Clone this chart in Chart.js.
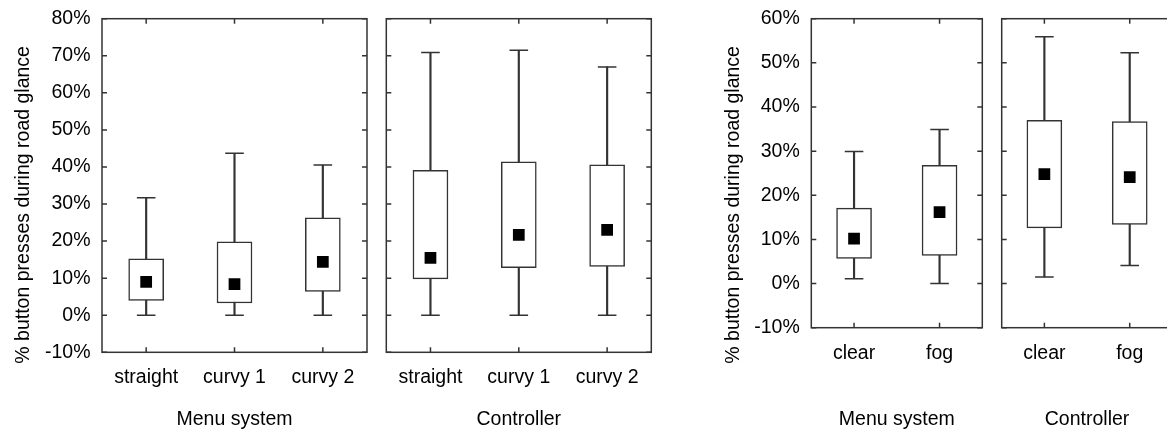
<!DOCTYPE html>
<html>
<head>
<meta charset="utf-8">
<script src="https://cdn.jsdelivr.net/npm/chart.js@4"></script>
<style>
  html, body { margin: 0; padding: 0; background: #fff; overflow: hidden; }
  #wrap { position: relative; width: 1167px; height: 429px; overflow: hidden; }
  canvas { position: absolute; top: 0; }
</style>
</head>
<body>
<div id="wrap">
  <canvas id="menuRoad" width="372" height="429" style="left:0px"></canvas>
  <canvas id="ctrlRoad" width="288" height="429" style="left:372px"></canvas>
  <canvas id="menuWeather" width="285" height="429" style="left:705px"></canvas>
  <canvas id="ctrlWeather" width="190" height="429" style="left:990px"></canvas>
</div>
<script>
// values in % (min / lower quartile / upper quartile / max / mean marker)
const roadLabels = ['straight', 'curvy 1', 'curvy 2'];
const menuRoadMin = [0, 0, 0];
const menuRoadQ1 = [4.0, 3.3, 6.4];
const menuRoadQ3 = [15.2, 19.8, 26.3];
const menuRoadMax = [31.7, 43.7, 40.5];
const menuRoadMean = [9.0, 8.4, 14.4];

const ctrlRoadMin = [0, 0, 0];
const ctrlRoadQ1 = [9.8, 12.8, 13.2];
const ctrlRoadQ3 = [39.1, 41.4, 40.6];
const ctrlRoadMax = [70.9, 71.5, 67.0];
const ctrlRoadMean = [15.5, 21.7, 23.0];

const weatherLabels = ['clear', 'fog'];
const menuWeatherMin = [1.1, 0];
const menuWeatherQ1 = [5.7, 6.4];
const menuWeatherQ3 = [17.1, 26.8];
const menuWeatherMax = [29.9, 34.9];
const menuWeatherMean = [10.2, 16.2];

const ctrlWeatherMin = [1.5, 4.1];
const ctrlWeatherQ1 = [12.6, 13.4];
const ctrlWeatherQ3 = [37.0, 36.7];
const ctrlWeatherMax = [55.9, 52.3];
const ctrlWeatherMean = [24.8, 24.1];

const yTitle = '% button presses during road glance';
const INK = '#333';

Chart.defaults.font.family = "'Liberation Sans', Arial, sans-serif";
Chart.defaults.color = '#000';

// box around the plot area with little inward ticks on all four sides
const frame = {
  id: 'frame',
  beforeDatasetsDraw(chart) {
    const {ctx, chartArea: a, scales: {x, y}} = chart;
    ctx.save();
    ctx.strokeStyle = INK;
    ctx.lineWidth = 1.5;
    ctx.strokeRect(a.left, a.top, a.right - a.left, a.bottom - a.top);
    ctx.beginPath();
    y.ticks.forEach(t => {
      const py = y.getPixelForValue(t.value);
      ctx.moveTo(a.left, py); ctx.lineTo(a.left + 5, py);
      ctx.moveTo(a.right, py); ctx.lineTo(a.right - 5, py);
    });
    x.ticks.forEach((t, i) => {
      const px = x.getPixelForTick(i);
      ctx.moveTo(px, a.bottom); ctx.lineTo(px, a.bottom - 5);
      ctx.moveTo(px, a.top); ctx.lineTo(px, a.top + 5);
    });
    ctx.stroke();
    ctx.restore();
  }
};

function boxChart(id, labels, min, q1, q3, max, mean, o) {
  const withAxis = o.axisW !== undefined;
  new Chart(document.getElementById(id), {
    type: 'bar',
    data: {
      labels: labels,
      datasets: [
        { data: min.map((v, i) => [v, max[i]]), backgroundColor: INK, barThickness: 1.5, grouped: false, order: 4 },
        { data: q1.map((v, i) => [v, q3[i]]), backgroundColor: '#fff', borderColor: INK, borderWidth: 1.5,
          borderSkipped: false, barThickness: 35, grouped: false, order: 3 },
        { type: 'line', data: min, showLine: false, pointStyle: 'line', pointRadius: 9.3,
          pointBorderColor: INK, pointBorderWidth: 1.5, order: 2 },
        { type: 'line', data: max, showLine: false, pointStyle: 'line', pointRadius: 9.3,
          pointBorderColor: INK, pointBorderWidth: 1.5, order: 2 },
        { type: 'line', data: mean, showLine: false, pointStyle: 'rect', pointRadius: 8.3,
          pointBackgroundColor: '#000', pointBorderWidth: 0, order: 1 }
      ]
    },
    options: {
      responsive: false,
      animation: false,
      events: [],
      layout: { autoPadding: false, padding: { top: 18.7, bottom: 38, left: o.padLeft, right: o.padRight } },
      plugins: {
        legend: { display: false },
        tooltip: { enabled: false },
        title: {
          display: withAxis, text: yTitle, position: 'left', color: '#000',
          font: { size: 19.5, weight: 'normal' }, padding: { top: o.titlePad || 0, bottom: 0 }
        }
      },
      scales: {
        x: {
          grid: { display: false, drawTicks: false },
          border: { display: false },
          ticks: { font: { size: 19.5 }, padding: 14, maxRotation: 0, autoSkip: false },
          title: { display: true, text: o.xTitle, color: '#000', font: { size: 19.5 }, padding: { top: 0, bottom: -40 } },
          afterFit: s => { s.height = 391 - o.bottom; s.paddingLeft = 0; s.paddingRight = 0; }
        },
        y: {
          display: withAxis,
          min: o.yMin,
          max: o.yMax,
          grid: { display: false, drawTicks: false },
          border: { display: false },
          ticks: { stepSize: 10, font: { size: 19.5 }, padding: 11.5, callback: v => v + '%' },
          afterFit: s => { if (withAxis) s.width = o.axisW; s.paddingTop = 0; s.paddingBottom = 0; }
        }
      }
    },
    plugins: [frame]
  });
}

boxChart('menuRoad', roadLabels, menuRoadMin, menuRoadQ1, menuRoadQ3, menuRoadMax, menuRoadMean,
  { xTitle: 'Menu system', yMin: -10, yMax: 80, bottom: 352.3, padLeft: 0, padRight: 5, titlePad: 12, axisW: 66.6 });
boxChart('ctrlRoad', roadLabels, ctrlRoadMin, ctrlRoadQ1, ctrlRoadQ3, ctrlRoadMax, ctrlRoadMean,
  { xTitle: 'Controller', yMin: -10, yMax: 80, bottom: 352.3, padLeft: 14.3, padRight: 8.7 });
boxChart('menuWeather', weatherLabels, menuWeatherMin, menuWeatherQ1, menuWeatherQ3, menuWeatherMax, menuWeatherMean,
  { xTitle: 'Menu system', yMin: -10, yMax: 60, bottom: 327.7, padLeft: 0, padRight: 7.7, titlePad: 16.5, axisW: 66.4 });
boxChart('ctrlWeather', weatherLabels, ctrlWeatherMin, ctrlWeatherQ1, ctrlWeatherQ3, ctrlWeatherMax, ctrlWeatherMean,
  { xTitle: 'Controller', yMin: -10, yMax: 60, bottom: 327.7, padLeft: 11.7, padRight: 7.6 });
</script>
</body>
</html>
